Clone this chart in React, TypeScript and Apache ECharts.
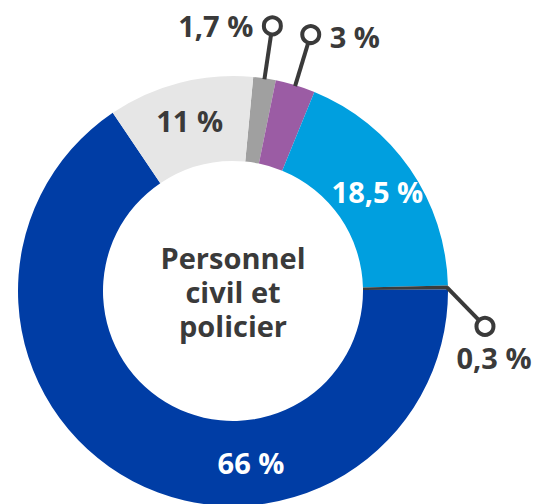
import React, { useEffect, useRef } from 'react';
import * as echarts from 'echarts';

const categories = ['1,7 %', '3 %', '18,5 %', '0,3 %', '66 %', '11 %'];
const values = [1.7, 3, 18.5, 0.3, 66, 11];
const centerLines = ['Personnel', 'civil et', 'policier'];

const COLORS = ['#a0a0a0', '#9b5ca4', '#009fdf', '#3c3c3c', '#003da5', '#e6e6e6'];
const TEXT = '#3a3a3a';
const CX = 233;
const CY = 291;
const R_IN = 130;
const R_OUT = 215;
const START_ANGLE = 84.6; // echarts: ccw from 3 o'clock
const FONT = '"Open Sans", "Noto Sans", sans-serif';
const FS = 29;

function sliceAngles() {
  const total = values.reduce((a, b) => a + b, 0);
  const s = 90 - START_ANGLE; // clockwise from top
  let cum = 0;
  return values.map((v) => {
    const a0 = s + (cum / total) * 360;
    cum += v;
    const a1 = s + (cum / total) * 360;
    return { a0, a1, mid: (a0 + a1) / 2 };
  });
}

function pt(deg: number, r: number): [number, number] {
  const t = (deg * Math.PI) / 180;
  return [CX + r * Math.sin(t), CY - r * Math.cos(t)];
}

export default function App() {
  const ref = useRef<HTMLDivElement>(null);
  useEffect(() => {
    document.body.style.margin = '0';
    if (!ref.current) return;
    const chart = echarts.init(ref.current, undefined, { renderer: 'svg' });
    const ang = sliceAngles();

    const callouts: any[] = [];
    const addCallout = (
      i: number,
      circle: [number, number],
      start: [number, number],
      text: { x: number; y: number; align: string; vAlign: string }
    ) => {
      callouts.push({
        type: 'line',
        shape: { x1: start[0], y1: start[1], x2: circle[0], y2: circle[1] },
        style: { stroke: TEXT, lineWidth: 4 },
        z: 10,
      });
      callouts.push({
        type: 'circle',
        shape: { cx: circle[0], cy: circle[1], r: 8.5 },
        style: { fill: '#fff', stroke: TEXT, lineWidth: 4 },
        z: 11,
      });
      callouts.push({
        type: 'text',
        x: text.x,
        y: text.y,
        style: {
          text: categories[i],
          fill: TEXT,
          font: `bold ${FS}px ${FONT}`,
          lineHeight: 30,
          align: text.align,
          verticalAlign: text.vAlign,
        },
        z: 11,
      });
    };
    {
      const st = pt(ang[0].mid, R_OUT - 1);
      const c = pt(ang[0].mid, R_OUT + 53);
      addCallout(0, c, st, { x: c[0] - 19, y: c[1], align: 'right', vAlign: 'middle' });
    }
    {
      const st = pt(ang[1].mid, R_OUT - 1);
      const c = pt(ang[1].mid, R_OUT + 53);
      addCallout(1, c, st, { x: c[0] + 19, y: c[1] + 2, align: 'left', vAlign: 'middle' });
    }
    {
      const st = pt(ang[3].mid, R_OUT - 1);
      const c: [number, number] = [st[0] + 38, st[1] + 39];
      addCallout(3, c, st, { x: c[0] + 9, y: c[1] + 31, align: 'center', vAlign: 'middle' });
    }

    const centerTexts = centerLines.map((t, k) => ({
      type: 'text',
      x: CX,
      y: CY - 34 + k * 34,
      style: {
        text: t,
        fill: TEXT,
        font: `bold ${FS}px ${FONT}`,
        lineHeight: 30,
        align: 'center',
        verticalAlign: 'middle',
      },
      z: 5,
    }));

    const insideColors = ['', '', '#ffffff', '', '#ffffff', TEXT];
    const hidden = [true, true, false, true, false, false];

    const option: any = {
      animation: false,
      graphic: [...centerTexts, ...callouts],
      series: [
        {
          type: 'pie',
          center: [CX, CY],
          radius: [R_IN, R_OUT],
          startAngle: START_ANGLE,
          clockwise: true,
          avoidLabelOverlap: false,
          silent: true,
          itemStyle: { borderWidth: 0 },
          labelLine: { show: false },
          labelLayout: (params: any) => {
            if (params.dataIndex === 4) {
              const p = pt(174, (R_IN + R_OUT) / 2);
              return { x: p[0], y: p[1] };
            }
            return {};
          },
          data: values.map((v, i) => ({
            value: v,
            name: categories[i],
            itemStyle: { color: COLORS[i] },
            label: {
              show: !hidden[i],
              position: 'inside',
              formatter: categories[i],
              color: insideColors[i],
              fontFamily: FONT,
              fontWeight: 'bold',
              fontSize: FS,
              lineHeight: 30,
            },
          })),
        },
      ],
    };
    chart.setOption(option);
    return () => chart.dispose();
  }, []);
  return <div ref={ref} style={{ width: 545, height: 504 }} />;
}
